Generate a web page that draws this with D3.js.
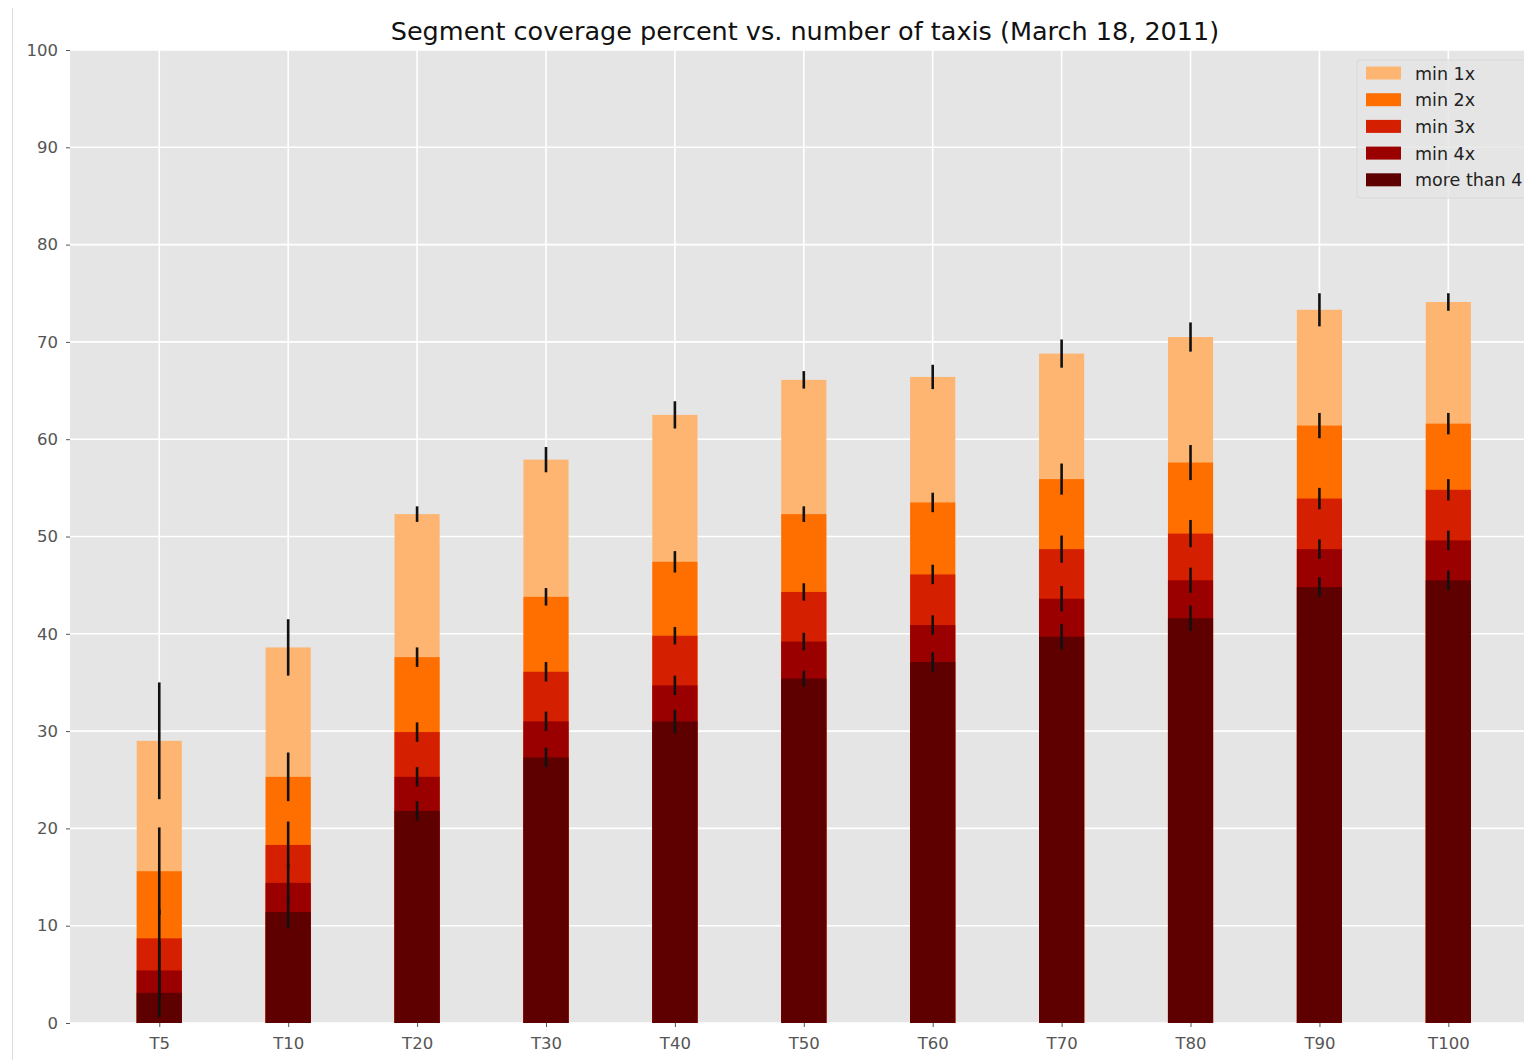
<!DOCTYPE html>
<html>
<head>
<meta charset="utf-8">
<script src="https://cdn.jsdelivr.net/npm/d3@7/dist/d3.min.js"></script>
<style>
  html, body { margin: 0; padding: 0; background: #fff; }
  svg { display: block; font-family: "DejaVu Sans", sans-serif; }
</style>
</head>
<body>
<svg id="chart" width="1524" height="1060"></svg>
<script>
// Fleet sizes on the x axis
const categories = ["T5", "T10", "T20", "T30", "T40", "T50", "T60", "T70", "T80", "T90", "T100"];

// Coverage series (percent of segments), one entry per fleet size
const seriesNames = ["min 1x", "min 2x", "min 3x", "min 4x", "more than 4"];
const min1x    = [29.0, 38.6, 52.3, 57.9, 62.5, 66.1, 66.4, 68.8, 70.5, 73.3, 74.1];
const min2x    = [15.6, 25.3, 37.6, 43.8, 47.4, 52.3, 53.5, 55.9, 57.6, 61.4, 61.6];
const min3x    = [8.7, 18.3, 29.9, 36.1, 39.8, 44.3, 46.1, 48.7, 50.3, 53.9, 54.8];
const min4x    = [5.4, 14.4, 25.3, 31.0, 34.7, 39.2, 40.9, 43.6, 45.5, 48.7, 49.6];
const moreThan4 = [3.1, 11.4, 21.8, 27.3, 31.0, 35.4, 37.1, 39.7, 41.6, 44.8, 45.5];

// Error bar half-lengths for each series
const err1x   = [6.0, 2.9, 0.8, 1.3, 1.4, 0.9, 1.25, 1.45, 1.5, 1.7, 0.9];
const err2x   = [4.5, 2.5, 1.0, 0.9, 1.1, 0.8, 1.0, 1.6, 1.8, 1.3, 1.1];
const err3x   = [3.0, 2.4, 1.0, 1.0, 0.9, 0.9, 1.0, 1.4, 1.4, 1.1, 1.1];
const err4x   = [3.0, 2.0, 1.0, 1.0, 1.0, 0.9, 1.0, 1.3, 1.3, 1.0, 1.0];
const errMore = [2.5, 1.7, 1.0, 1.0, 1.2, 0.8, 1.0, 1.3, 1.3, 1.0, 1.0];

const yTicks = [0, 10, 20, 30, 40, 50, 60, 70, 80, 90, 100];

const seriesValues = [min1x, min2x, min3x, min4x, moreThan4];
const seriesErrors = [err1x, err2x, err3x, err4x, errMore];
const colors = ["#fdb571", "#fe6f00", "#d41f00", "#9b0000", "#5e0000"];

const svg = d3.select("#chart");
const plot = { left: 70, top: 50, right: 1537.6, bottom: 1023 };
const barWidth = 0.35;

const x = d3.scaleLinear()
  .domain([-0.6925, categories.length - 1 + 0.6925])
  .range([plot.left, plot.right]);
const y = d3.scaleLinear().domain([0, 100]).range([plot.bottom, plot.top]);
const bw = x(barWidth) - x(0);

// figure edge line on the left
svg.append("line")
  .attr("x1", 12.5).attr("x2", 12.5).attr("y1", 8).attr("y2", 1060)
  .attr("stroke", "#dcdcdc").attr("stroke-width", 1);

// axes background
svg.append("rect")
  .attr("x", plot.left).attr("y", plot.top)
  .attr("width", plot.right - plot.left).attr("height", plot.bottom - plot.top)
  .attr("fill", "#e5e5e5");

// grid
const grid = svg.append("g");
grid.selectAll("line.h").data(yTicks).join("line")
  .attr("x1", plot.left).attr("x2", plot.right)
  .attr("y1", d => y(d)).attr("y2", d => y(d))
  .attr("stroke", "#fff").attr("stroke-width", 1.6);
grid.selectAll("line.v").data(categories.map((c, i) => i)).join("line")
  .attr("y1", plot.top).attr("y2", plot.bottom)
  .attr("x1", d => x(d)).attr("x2", d => x(d))
  .attr("stroke", "#fff").attr("stroke-width", 1.6);

// bars: each series is drawn from zero, later series overlaying earlier ones
seriesValues.forEach((vals, s) => {
  svg.append("g").selectAll("rect").data(vals).join("rect")
    .attr("x", (d, i) => x(i) - bw / 2)
    .attr("width", bw)
    .attr("y", d => y(d))
    .attr("height", d => y(0) - y(d))
    .attr("fill", colors[s]);
});

// error bars on top of all bars
seriesValues.forEach((vals, s) => {
  const errs = seriesErrors[s];
  svg.append("g").selectAll("line").data(vals).join("line")
    .attr("x1", (d, i) => x(i)).attr("x2", (d, i) => x(i))
    .attr("y1", (d, i) => y(d + errs[i]))
    .attr("y2", (d, i) => y(Math.max(0, d - errs[i])))
    .attr("stroke", "#111").attr("stroke-width", 2.6);
});

// axes
const yAxis = svg.append("g")
  .attr("transform", `translate(${plot.left},0)`)
  .call(d3.axisLeft(y).tickValues(yTicks).tickSize(4).tickPadding(8));
const xAxis = svg.append("g")
  .attr("transform", `translate(0,${plot.bottom})`)
  .call(d3.axisBottom(x).tickValues(categories.map((c, i) => i))
    .tickFormat(i => categories[i]).tickSize(4).tickPadding(10));
[yAxis, xAxis].forEach(a => {
  a.select(".domain").remove();
  a.selectAll(".tick line").attr("stroke", "#555").attr("stroke-width", 1);
  a.selectAll(".tick text").attr("fill", "#555")
    .style("font-family", "'DejaVu Sans', sans-serif").style("font-size", "16.5px");
});

// title
svg.append("text")
  .attr("x", 805).attr("y", 40)
  .attr("text-anchor", "middle")
  .attr("fill", "#111")
  .style("font-size", "25.5px")
  .text("Segment coverage percent vs. number of taxis (March 18, 2011)");

// legend
const legend = svg.append("g").attr("transform", "translate(1357,60)");
legend.append("rect")
  .attr("x", 0).attr("y", 0).attr("width", 200).attr("height", 138)
  .attr("rx", 3)
  .attr("fill", "#e5e5e5").attr("fill-opacity", 0.8)
  .attr("stroke", "#d8d8d8");
seriesNames.forEach((name, s) => {
  const row = legend.append("g").attr("transform", `translate(0,${13 + s * 26.7})`);
  row.append("rect").attr("x", 9).attr("y", -6.5).attr("width", 35).attr("height", 13)
    .attr("fill", colors[s]);
  row.append("text").attr("x", 58).attr("y", 6.5)
    .attr("fill", "#222").style("font-size", "17.5px").text(name);
});
</script>
</body>
</html>
